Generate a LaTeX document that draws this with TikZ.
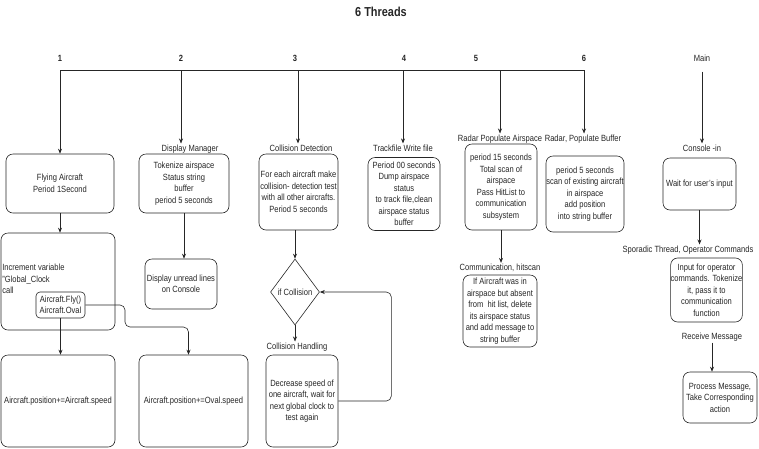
\documentclass[tikz,border=0pt]{standalone}
\usepackage{fontspec}
\setmainfont{Liberation Sans}[FakeStretch=0.84]
\usetikzlibrary{shapes.geometric, arrows.meta}
\tikzstyle{arrow} = [->,>={Stealth[length=5pt,width=4pt]}]

\begin{document}
\begin{tikzpicture}[x=1pt,y=-1pt, line width=0.6pt, color=black!85, font=\fontsize{9}{11.5}\selectfont]
    \tikzstyle{box}=[draw, rounded corners=7pt, align=center, inner sep=0pt]
    \tikzstyle{small box}=[box, rounded corners=4pt]
    \tikzstyle{decision}=[draw, diamond, align=center, inner sep=0pt, minimum width=49pt, minimum height=66pt]
    \tikzstyle{lbl}=[align=center, inner sep=1pt]
    \tikzstyle{num}=[lbl, font=\bfseries\fontsize{9}{11}\selectfont]

    \useasboundingbox (0,0) rectangle (759,448);

    % Title and thread numbers
    \node[lbl, font=\bfseries\fontsize{13}{15}\selectfont] (T) at (381,12) {6 Threads};
    \foreach \name / \x in {1/60,2/181,3/295,4/404,5/476,6/584}
        \path node[num] (N-\name) at (\x,58) {\name};
    \node[lbl] (Main) at (702,58) {Main};

    % Common line of the threads
    \foreach \name / \x in {1/60,2/181,3/298,4/403,5/500,6/584}
        \coordinate (J-\name) at (\x,70);
    \draw (J-1) -- (J-6);

    % Thread 1
    \node[box, minimum width=108pt, minimum height=59pt] (FA) at (60,183.5) {Flying Aircraft\\Period 1Second};
    \node[box, minimum width=114pt, minimum height=97pt] (IV) at (58,281.5) {};
    \node[anchor=north west, align=left, inner sep=0pt] (IVt) at (2,264) {Increment variable\\"Global\_Clock\\call};
    \node[small box, minimum width=49pt, minimum height=26pt] (AF) at (60.5,305) {Aircraft.Fly()\\Aircraft.Oval};
    \node[box, minimum width=114pt, minimum height=92pt] (PA) at (58,401) {Aircraft.position+=Aircraft.speed};
    \node[box, minimum width=109pt, minimum height=92pt] (PO) at (193.5,401) {Aircraft.position+=Oval.speed};

    % Thread 2
    \node[lbl] (DMl) at (190,149) {Display Manager};
    \node[box, minimum width=90pt, minimum height=59pt] (TK) at (184,183.5) {Tokenize airspace\\Status string\\buffer\\period 5 seconds};
    \node[box, minimum width=72pt, minimum height=50pt] (DU) at (181,284) {Display unread lines\\on Console};

    % Thread 3
    \node[lbl] (CDl) at (301,148) {Collision Detection};
    \node[box, minimum width=79pt, minimum height=76pt] (CD) at (298.5,192) {For each aircraft make\\collision- detection test\\with all other aircrafts.\\Period 5 seconds};
    \node[decision] (IC) at (295,292) {if Collision};
    \node[lbl] (CHl) at (297,347) {Collision Handling};
    \node[box, minimum width=72pt, minimum height=92pt] (CH) at (302,401) {Decrease speed of\\one aircraft, wait for\\next global clock to\\test again};

    % Thread 4
    \node[lbl] (TWl) at (403,148) {Trackfile Write file};
    \node[box, minimum width=72pt, minimum height=73pt] (TW) at (404,194) {Period 00 seconds\\Dump airspace\\status\\to track file,clean\\airspace status\\buffer};

    % Thread 5
    \node[lbl] (RAl) at (500,139) {Radar Populate Airspace};
    \node[box, minimum width=72pt, minimum height=86pt] (RA) at (501,187) {period 15 seconds\\Total scan of\\airspace\\Pass HitList to\\communication\\subsystem};
    \node[lbl] (CMl) at (500,268) {Communication, hitscan};
    \node[box, minimum width=74pt, minimum height=72pt] (CM) at (500,311) {If Aircraft was in\\airspace but absent\\from \ hit list, delete\\its airspace status\\and add message to\\string buffer};

    % Thread 6
    \node[lbl] (RBl) at (583,139) {Radar, Populate Buffer};
    \node[box, minimum width=78pt, minimum height=76pt] (RB) at (585,194) {period 5 seconds\\scan of existing aircraft\\in airspace\\add position\\into string buffer};

    % Main
    \node[lbl] (CIl) at (702,148) {Console -in};
    \node[box, minimum width=73pt, minimum height=52pt] (WU) at (699.5,184) {Wait for user's input};
    \node[lbl] (SPl) at (688,250) {Sporadic Thread, Operator Commands};
    \node[box, minimum width=63pt, minimum height=64pt] (IO) at (706.5,290) {Input for operator\\commands. Tokenize\\it, pass it to\\communication\\function};
    \node[lbl] (RMl) at (712,337) {Receive Message};
    \node[box, minimum width=74pt, minimum height=51pt] (PM) at (720,397.5) {Process Message,\\Take Corresponding\\action};

    % Draw the connections
    \draw[arrow] (J-1) -- (J-1 |- FA.north);
    \draw[arrow] (J-2) -- (J-2 |- DMl.north);
    \draw[arrow] (J-3) -- (J-3 |- CDl.north);
    \draw[arrow] (J-4) -- (J-4 |- TWl.north);
    \draw[arrow] (J-5) -- (J-5 |- RAl.north);
    \draw[arrow] (J-6) -- (J-6 |- RBl.north);
    \draw[arrow, shorten <=9pt] (Main.south) -- (Main.south |- CIl.north);

    \draw[arrow] (FA.south) -- (FA.south |- IV.north);
    \draw[arrow] (AF.south) -- (AF.south |- PA.north);
    \draw[arrow, rounded corners=5pt] (AF.east) -| (125,327) -| ([xshift=-5pt]PO.north);
    \draw[arrow] (TK.south) -- (TK.south |- DU.north);
    \draw[arrow] (CD.south -| IC.north) -- (IC.north);
    \draw[arrow] (IC.south) -- (IC.south |- CHl.north);
    \draw[arrow, rounded corners=5pt] (CH.east) -- ++(53,0) |- (IC.east);
    \draw[arrow] (RA.south) -- (RA.south |- CMl.north);
    \draw[arrow] (WU.south) -- (WU.south |- SPl.north);
    \draw[arrow] (RMl.south) -- (RMl.south |- PM.north);
\end{tikzpicture}
\end{document}
